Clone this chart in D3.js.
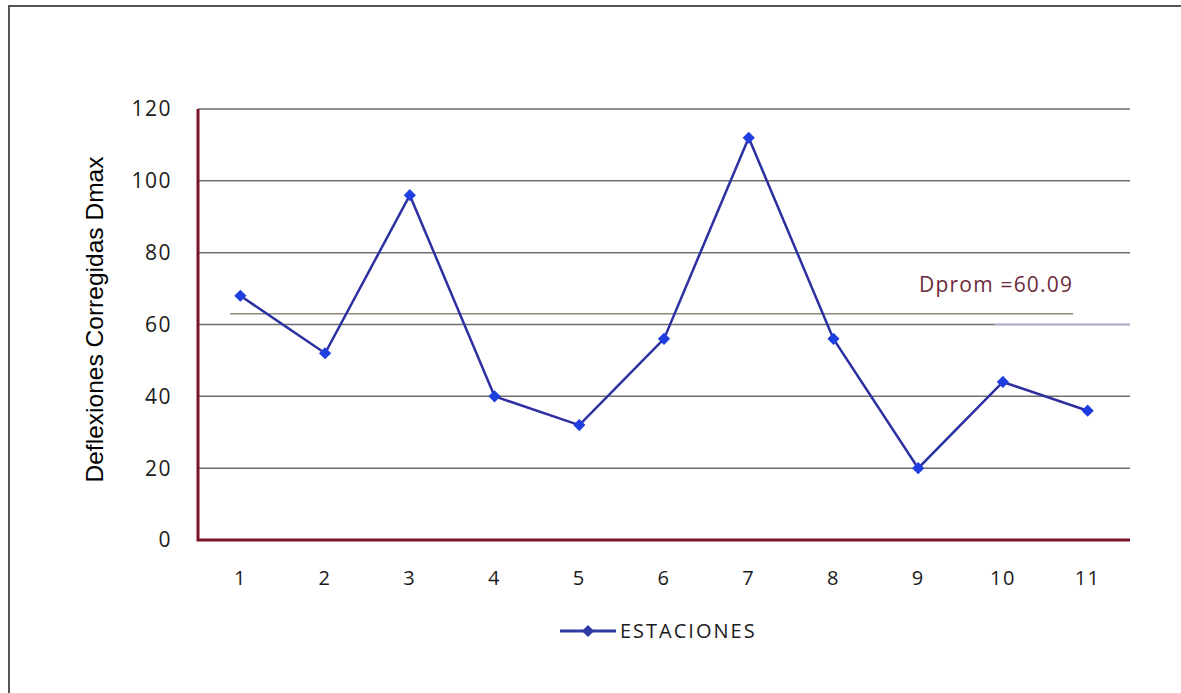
<!DOCTYPE html>
<html>
<head>
<meta charset="utf-8">
<script src="https://cdn.jsdelivr.net/npm/d3@7"></script>
<style>
  body { margin: 0; background: #fff; }
  svg { display: block; }
</style>
</head>
<body>
<svg id="chart" width="1181" height="693"></svg>
<script>
// data
const estaciones = [1, 2, 3, 4, 5, 6, 7, 8, 9, 10, 11];
const deflexiones = [68, 52, 96, 40, 32, 56, 112, 56, 20, 44, 36];
const yTicks = [0, 20, 40, 60, 80, 100, 120];
const dpromLabel = "Dprom =60.09";
const dpromLevel = 63;          // where the grey reference line sits in the picture
const dpromSpan = [0.88, 10.83]; // stations covered by that line
const purpleSpan = [9.9, 11.5];

const svg = d3.select("#chart"),
    width = +svg.attr("width"),
    height = +svg.attr("height"),
    margin = { top: 109, right: 51, bottom: 153, left: 198 },
    chartWidth = width - margin.left - margin.right,
    chartHeight = height - margin.top - margin.bottom;

const labelFont = "'Open Sans', sans-serif";

// outer frame (only left and top edges show)
svg.append("path")
    .attr("d", `M9,${height} V6 H${width}`)
    .attr("fill", "none")
    .attr("stroke", "#555")
    .attr("stroke-width", 2);

const chart = svg.append("g")
    .attr("transform", `translate(${margin.left},${margin.top})`);

// Scales
const x = d3.scaleLinear()
    .domain([0.5, 11.5])
    .range([0, chartWidth]);

const y = d3.scaleLinear()
    .domain([0, 120])
    .range([chartHeight, 0]);

// Gridlines
chart.append("g")
    .selectAll("line")
    .data(yTicks.filter(d => d > 0))
    .join("line")
    .attr("x1", 0)
    .attr("x2", chartWidth)
    .attr("y1", d => y(d))
    .attr("y2", d => y(d))
    .attr("stroke", "#6e6e6e")
    .attr("stroke-width", 1.5);

// Dprom reference line
chart.append("line")
    .attr("x1", x(dpromSpan[0]))
    .attr("x2", x(dpromSpan[1]))
    .attr("y1", y(dpromLevel))
    .attr("y2", y(dpromLevel))
    .attr("stroke", "#8a8a7a")
    .attr("stroke-width", 1.5);

chart.append("line")
    .attr("x1", x(purpleSpan[0]))
    .attr("x2", x(purpleSpan[1]))
    .attr("y1", y(60))
    .attr("y2", y(60))
    .attr("stroke", "#b9a6d8")
    .attr("stroke-width", 1.5);

chart.append("text")
    .attr("x", x(dpromSpan[1]))
    .attr("y", y(dpromLevel) - 22)
    .attr("text-anchor", "end")
    .style("font-family", labelFont)
    .style("font-size", "21px")
    .style("letter-spacing", "1.2px")
    .style("fill", "#6b2a3c")
    .text(dpromLabel);

// Axes (dark red L shape)
chart.append("path")
    .attr("d", `M0,0 V${chartHeight} H${chartWidth}`)
    .attr("fill", "none")
    .attr("stroke", "#7d1326")
    .attr("stroke-width", 3);

// Y tick labels
chart.append("g")
    .selectAll("text")
    .data(yTicks)
    .join("text")
    .attr("x", -26)
    .attr("y", d => y(d))
    .attr("dy", "0.35em")
    .attr("text-anchor", "end")
    .style("font-family", labelFont)
    .style("font-size", "21px")
    .style("letter-spacing", "1.5px")
    .style("fill", "#1a1a1a")
    .text(d => d);

// X tick labels
chart.append("g")
    .selectAll("text")
    .data(estaciones)
    .join("text")
    .attr("x", d => x(d))
    .attr("y", chartHeight + 38)
    .attr("dy", "0.35em")
    .attr("text-anchor", "middle")
    .style("font-family", labelFont)
    .style("font-size", "20px")
    .style("letter-spacing", "1.5px")
    .style("fill", "#1a1a1a")
    .text(d => d);

// Y axis title
chart.append("text")
    .attr("x", -(chartHeight / 2) + 5)
    .attr("y", -103)
    .attr("dy", "0.35em")
    .attr("text-anchor", "middle")
    .attr("transform", "rotate(-90)")
    .attr("textLength", 326)
    .attr("lengthAdjust", "spacingAndGlyphs")
    .style("font-family", "'Liberation Sans', Arial, sans-serif")
    .style("font-size", "24px")
    .style("fill", "#000")
    .text("Deflexiones Corregidas Dmax");

// Series line
const line = d3.line()
    .x((d, i) => x(estaciones[i]))
    .y(d => y(d));

chart.append("path")
    .datum(deflexiones)
    .attr("d", line)
    .attr("fill", "none")
    .attr("stroke", "#2d30a0")
    .attr("stroke-width", 2.5);

const diamond = d3.symbol().type(d3.symbolDiamond2).size(95);

chart.append("g")
    .selectAll("path")
    .data(deflexiones)
    .join("path")
    .attr("transform", (d, i) => `translate(${x(estaciones[i])},${y(d)})`)
    .attr("d", diamond)
    .attr("fill", "#1f3ee0");

// Legend
const legend = svg.append("g")
    .attr("transform", `translate(560, 631)`);

legend.append("line")
    .attr("x1", 0)
    .attr("x2", 56)
    .attr("stroke", "#2d3aa6")
    .attr("stroke-width", 3);

legend.append("path")
    .attr("transform", "translate(28,0)")
    .attr("d", diamond)
    .attr("fill", "#2d3aa6");

legend.append("text")
    .attr("x", 60)
    .attr("dy", "0.35em")
    .style("font-family", labelFont)
    .style("font-size", "20px")
    .style("letter-spacing", "2px")
    .style("fill", "#1a1a1a")
    .text("ESTACIONES");
</script>
</body>
</html>
